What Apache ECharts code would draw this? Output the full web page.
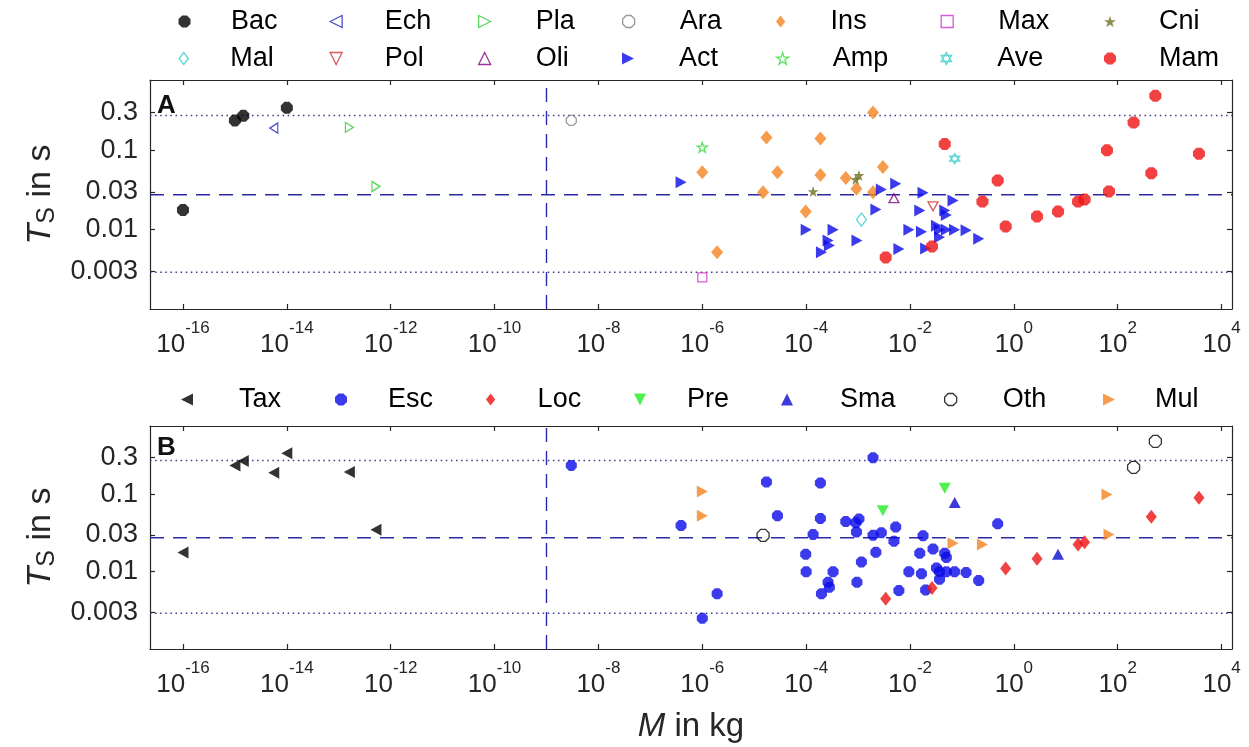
<!DOCTYPE html>
<html><head><meta charset="utf-8">
<script src="https://cdn.jsdelivr.net/npm/echarts@6/dist/echarts.min.js"></script>
<style>html,body{margin:0;padding:0;background:#fff}#c{width:1249px;height:747px}</style>
</head><body><div id="c"></div>
<script>
// ---------- data ----------
const xTicks = [1e-16,1e-14,1e-12,1e-10,1e-8,1e-6,1e-4,1e-2,1,1e2,1e4];
const yTicks = [0.003,0.01,0.03,0.1,0.3];
const yTickLabels = ['0.003','0.01','0.03','0.1','0.3'];
const refY = [0.275, 0.0275, 0.0029];
const refX = 1e-9;

// Panel A (taxonomic groups)  [mass kg, T_S s]
const bacA = [[1e-16,0.0177],[1.0e-15,0.238],[1.45e-15,0.272],[1e-14,0.343]];
const echA = [[5.6e-15,0.191]];
const plaA = [[1.6e-13,0.195],[5.2e-13,0.035]];
const araA = [[3e-9,0.238]];
const insA = [[1e-6,0.053],[1.93e-6,0.0052],[1.72e-5,0.145],[2.8e-5,0.053],[1.48e-5,0.0296],[9.8e-5,0.0169],
  [1.88e-4,0.141],[1.88e-4,0.049],[5.8e-4,0.0447],[9.3e-4,0.0327],[1.94e-3,0.30],[3.0e-3,0.0615],[1.94e-3,0.0296]];
const maxA = [[1e-6,0.0025]];
const cniA = [[1.36e-4,0.0303],[1.04e-3,0.0483],[9.0e-4,0.043]];
const malA = [[1.16e-3,0.0134]];
const polA = [[0.0277,0.0197]];
const oliA = [[4.9e-3,0.0249]];
const actA = [[3.9e-7,0.0397],[1e-4,0.01],[3.3e-4,0.01],[2.64e-4,0.0073],[2.8e-4,0.0063],[1.97e-4,0.0052],
  [9.5e-4,0.0073],[2.8e-3,0.032],[5.3e-3,0.038],[2.2e-3,0.0179],[6.1e-3,0.0057],[0.0178,0.0292],[9.5e-3,0.01],
  [0.0166,0.0094],[0.0154,0.0174],[0.02,0.0058],[0.0673,0.0233],[0.0466,0.0174],[0.05,0.0153],[0.0323,0.0112],
  [0.037,0.0100],[0.05,0.0100],[0.072,0.0100],[0.12,0.0098],[0.037,0.008],[0.21,0.0077]];
const ampA = [[1e-6,0.109]];
const aveA = [[0.0725,0.0785]];
const mamA = [[3.4e-3,0.00447],[0.0466,0.12],[0.0265,0.00615],[0.248,0.0226],[0.488,0.0417],[0.695,0.011],
  [2.79,0.0147],[7.08,0.0169],[17.2,0.0226],[23,0.024],[67.8,0.0303],[62,0.1],[443,0.0516],[202,0.224],[530,0.486],[3660,0.0908]];

// Panel B (mechanism groups)
const taxB = [[1e-16,0.0177],[1.0e-15,0.238],[1.45e-15,0.272],[1e-14,0.343],[5.6e-15,0.191],[1.6e-13,0.195],[5.2e-13,0.035]];
const escB = [[3e-9,0.238],[1e-6,0.0025],[3.9e-7,0.0397],[1.93e-6,0.0052],[1.72e-5,0.145],[2.8e-5,0.053],[9.8e-5,0.0169],
  [1.88e-4,0.141],[1.88e-4,0.049],[1.36e-4,0.0303],[1e-4,0.01],[3.3e-4,0.01],[2.64e-4,0.0073],[2.8e-4,0.0063],[1.97e-4,0.0052],
  [5.8e-4,0.0447],[9.3e-4,0.0327],[1.04e-3,0.0483],[9.0e-4,0.043],[1.16e-3,0.0134],[9.5e-4,0.0073],[1.94e-3,0.30],
  [1.94e-3,0.0296],[2.8e-3,0.032],[5.3e-3,0.038],[4.9e-3,0.0249],[2.2e-3,0.0179],[6.1e-3,0.0057],[0.0178,0.0292],
  [9.5e-3,0.01],[0.0166,0.0094],[0.0154,0.0174],[0.0277,0.0197],[0.02,0.0058],[0.0466,0.0174],[0.05,0.0153],
  [0.0323,0.0112],[0.037,0.0100],[0.05,0.0100],[0.072,0.0100],[0.12,0.0098],[0.037,0.008],[0.21,0.0077],[0.488,0.0417]];
const locB = [[3.4e-3,0.00447],[0.0265,0.00615],[0.695,0.011],[2.79,0.0147],[17.2,0.0226],[23,0.024],[443,0.0516],[3660,0.0908]];
const preB = [[3e-3,0.0615],[0.0466,0.12]];
const smaB = [[0.0725,0.0785],[7.08,0.0169]];
const othB = [[1.48e-5,0.0296],[202,0.224],[530,0.486]];
const mulB = [[1e-6,0.109],[1e-6,0.053],[0.0673,0.0233],[0.248,0.0226],[67.8,0.0303],[62,0.1]];

const legendA1 = ['Bac','Ech','Pla','Ara','Ins','Max','Cni'];
const legendA2 = ['Mal','Pol','Oli','Act','Amp','Ave','Mam'];
const legendB = ['Tax','Esc','Loc','Pre','Sma','Oth','Mul'];

// ---------- layout (pixel positions of legend columns) ----------
const legSymA = [184.5, 335.5, 484, 628, 782, 946.5, 1110];
const legTxtA = [231, 384, 535, 679, 832, 997.5, 1159];
const legSymB = [187, 341, 492, 640, 787, 950, 1109];
const legTxtB = [239, 388, 539, 687, 840, 1002, 1155];

// ---------- styles ----------
const FONT = 'Liberation Sans, Arial, Helvetica, sans-serif';
const SYM = {
  oct: 'path://M3,0L7,0L10,3L10,7L7,10L3,10L0,7L0,3Z',
  left: 'path://M0,5L10,0L10,10Z',
  right: 'path://M10,5L0,0L0,10Z',
  up: 'path://M5,0L10,10L0,10Z',
  down: 'path://M5,10L10,0L0,0Z',
  diamond: 'path://M5,0L10,6.5L5,13L0,6.5Z',
  square: 'path://M0,0L10,0L10,10L0,10Z',
  star: 'path://M5,0L6.18,3.62L10,3.62L6.91,5.86L8.09,9.5L5,7.26L1.91,9.5L3.09,5.86L0,3.62L3.82,3.62Z',
  hexa: 'path://M5,0L9.33,7.5L0.67,7.5Z M5,10L0.67,2.5L9.33,2.5Z'
};
function S(name, data, sym, size, color, open) {
  return {
    name, type:'scatter', data,
    symbol: SYM[sym], symbolSize: size, z: 3,
    itemStyle: open ? {color:'rgba(0,0,0,0)', borderColor:color, borderWidth:1.3}
                    : {color:color, borderWidth:0},
    emphasis:{disabled:true}
  };
}
const seriesA = [
  S('Bac', bacA, 'oct', 12, '#000000', false),
  S('Ech', echA, 'left', [8,10], '#2222c0', true),
  S('Pla', plaA, 'right', [8,10], '#33cc33', true),
  S('Ara', araA, 'oct', 10, '#808080', true),
  S('Ins', insA, 'diamond', [12,14], '#f5821f', false),
  S('Max', maxA, 'square', 9, '#cc33cc', true),
  S('Cni', cniA, 'star', 11, '#6e6e1e', false),
  S('Mal', malA, 'diamond', [10,13], '#33cccc', true),
  S('Pol', polA, 'down', [10,9], '#d03030', true),
  S('Oli', oliA, 'up', [10,9], '#800080', true),
  S('Act', actA, 'right', [11,12], '#0a0ae8', false),
  S('Amp', ampA, 'star', 10, '#33dd33', true),
  S('Ave', aveA, 'hexa', 10, '#33cccc', true),
  S('Mam', mamA, 'oct', 12, '#f01010', false)
];
const seriesB = [
  S('Tax', taxB, 'left', [11,12], '#000000', false),
  S('Esc', escB, 'oct', 11, '#0a0ae8', false),
  S('Loc', locB, 'diamond', [11,14], '#ee1111', false),
  S('Pre', preB, 'down', [12,11], '#22ee22', false),
  S('Sma', smaB, 'up', [12,11], '#0a0ad0', false),
  S('Oth', othB, 'oct', 12, '#000000', true),
  S('Mul', mulB, 'right', [11,12], '#f5821f', false)
];

const xMin = Math.pow(10,-16.635), xMax = Math.pow(10,4.2);
const yMin = 0.001, yMax = 0.77;

function refSeries(xi, yi) {
  const out = [];
  refY.forEach((v, i) => out.push({
    type:'line', xAxisIndex:xi, yAxisIndex:yi, data:[[xMin,v],[xMax,v]], symbol:'none', silent:true, z:1,
    lineStyle:{color: i===1 ? '#2a2aa8' : '#3a3a90', width: i===1 ? 1.4 : 1.5, type: i===1 ? [14,9] : [1.5,3.6]}
  }));
  out.push({type:'line', xAxisIndex:xi, yAxisIndex:yi, data:[[refX,yMin],[refX,yMax]], symbol:'none', silent:true, z:1,
    lineStyle:{color:'#2a2aa8', width:1.4, type:[14,9]}});
  return out;
}

const axisCol = '#262626';
function xAxis(grid, pos, labels) {
  return {
    type:'log', logBase:10, gridIndex:grid, position:pos, min:xMin, max:xMax,
    axisLine:{show:true, onZero:false, lineStyle:{color:axisCol, width:1.2}},
    axisTick:{show:true, inside:true, length:5, customValues:xTicks, lineStyle:{color:axisCol, width:1.2}},
    minorTick:{show:false}, splitLine:{show:false},
    axisLabel:{show:labels, customValues:xTicks, margin:11, color:'#262626', fontFamily:FONT,
      formatter: v => '{b|10}{s|' + Math.round(Math.log10(v)) + '}',
      rich:{ b:{fontSize:26, fontFamily:FONT, color:'#262626', verticalAlign:'bottom', padding:[12,0,0,0]},
             s:{fontSize:17, fontFamily:FONT, color:'#262626', verticalAlign:'top'} } }
  };
}
function yAxis(grid, pos, labels) {
  return {
    type:'log', logBase:10, gridIndex:grid, position:pos, min:yMin, max:yMax,
    axisLine:{show:true, onZero:false, lineStyle:{color:axisCol, width:1.2}},
    axisTick:{show:true, inside:true, length:5, customValues:yTicks, lineStyle:{color:axisCol, width:1.2}},
    minorTick:{show:false}, splitLine:{show:false},
    axisLabel:{show:labels, customValues:yTicks, margin:12, color:'#262626', fontSize:27, fontFamily:FONT,
      formatter: v => { let best=0, bd=1e9; yTicks.forEach((t,i)=>{const d=Math.abs(Math.log10(t/v)); if(d<bd){bd=d;best=i;}}); return yTickLabels[best]; } },
    name: labels ? '{i|T}{sub|S} in s' : '', nameLocation:'middle', nameRotate:90, nameGap:89,
    nameTextStyle:{fontSize:34, fontFamily:FONT, color:'#262626',
      rich:{ i:{fontSize:34, fontStyle:'italic', fontFamily:FONT, color:'#262626'},
             sub:{fontSize:25, fontFamily:FONT, color:'#262626', verticalAlign:'bottom', padding:[13,0,0,0]} } }
  };
}

function legItem(name, cx, tx, cy) {
  return {
    data:[name], left: cx - 6, top: cy - 13, padding:0, itemGap:0, itemWidth:12, itemHeight:12,
    selectedMode:false, symbolKeepAspect:true,
    itemStyle:{borderWidth:'inherit'},
    formatter: n => '{g|}' + n,
    textStyle:{fontSize:27, fontFamily:FONT, color:'#000', rich:{g:{width: Math.max(0, tx - cx - 11)}}}
  };
}
const legends = [];
legendA1.forEach((n,i) => legends.push(legItem(n, legSymA[i], legTxtA[i], 21)));
legendA2.forEach((n,i) => legends.push(legItem(n, legSymA[i], legTxtA[i], 58)));
legendB.forEach((n,i) => legends.push(legItem(n, legSymB[i], legTxtB[i], 399)));

const xA = xAxis(0,'bottom',true), xAt = xAxis(0,'top',false);
const xB = xAxis(1,'bottom',true), xBt = xAxis(1,'top',false);
xB.name = '{i|M} in kg'; xB.nameLocation='middle'; xB.nameGap = 61;
xB.nameTextStyle = {fontSize:33, fontFamily:FONT, color:'#262626',
  rich:{ i:{fontSize:33, fontStyle:'italic', fontFamily:FONT, color:'#262626'} }};

const option = {
  animation:false,
  backgroundColor:'#ffffff',
  grid:[
    {left:150, top:80, width:1082, height:229, show:false},
    {left:150, top:426, width:1082, height:223, show:false}
  ],
  legend: legends,
  xAxis:[xA, xAt, xB, xBt],
  yAxis:[yAxis(0,'left',true), yAxis(0,'right',false), yAxis(1,'left',true), yAxis(1,'right',false)],
  graphic:[
    {type:'text', left:157, top:93, style:{text:'A', font:'bold 26px ' + FONT, fill:'#111'}},
    {type:'text', left:157, top:435, style:{text:'B', font:'bold 26px ' + FONT, fill:'#111'}}
  ],
  series: []
};
seriesA.forEach(s => { s.xAxisIndex = 0; s.yAxisIndex = 0; });
seriesB.forEach(s => { s.xAxisIndex = 2; s.yAxisIndex = 2; });
option.series = [...refSeries(0,0), ...refSeries(2,2), ...seriesA, ...seriesB];

const chart = echarts.init(document.getElementById('c'), null, {renderer:'canvas'});
chart.setOption(option);
</script>
</body></html>
